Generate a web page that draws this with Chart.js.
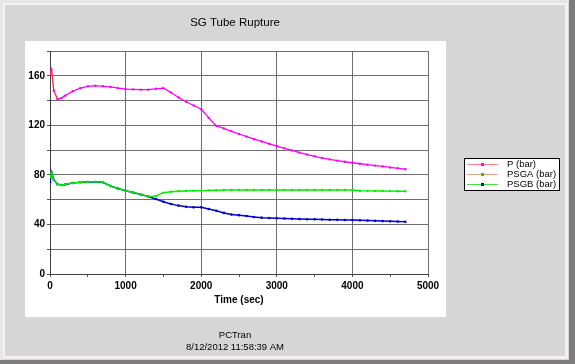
<!DOCTYPE html>
<html>
<head>
<meta charset="utf-8">
<script src="https://cdn.jsdelivr.net/npm/chart.js@4.4.1/dist/chart.umd.min.js"></script>
<style>
html,body{margin:0;padding:0;background:#d6d6d6;}
#wrap{position:relative;width:575px;height:364px;}
</style>
</head>
<body>
<div id="wrap"><canvas id="c" width="575" height="364"></canvas></div>
<script>
const chartTitle = 'SG Tube Rupture';
const xTitle = 'Time (sec)';
const footer1 = 'PCTran';
const footer2 = '8/12/2012 11:58:39 AM';
const seriesNames = ['P (bar)', 'PSGA (bar)', 'PSGB (bar)'];

const timeSec = [0, 20, 50, 100, 150, 200, 300, 400, 500, 600, 700, 800, 900, 1000,
  1100, 1200, 1300, 1400, 1500, 1600, 1700, 1800, 1900, 2000, 2100, 2200, 2300, 2400,
  2500, 2600, 2700, 2800, 2900, 3000, 3100, 3200, 3300, 3400, 3500, 3600, 3700, 3800,
  3900, 4000, 4100, 4200, 4300, 4400, 4500, 4600, 4700];

const pBar = [161, 165, 148, 141, 142, 144, 147.5, 150, 151.5, 152, 151.5, 151, 150, 149.3,
  149, 148.8, 148.8, 149.5, 150, 146.5, 142.5, 139, 136, 133, 126, 119.6, 117.5, 115.2,
  113, 110.8, 108.8, 107, 105.1, 103.3, 101.5, 99.7, 98, 96.4, 95, 93.6, 92.5, 91.5,
  90.6, 89.8, 89, 88.2, 87.5, 86.8, 86, 85.3, 84.6];

const psgaBar = [78, 82, 76, 72.5, 71.8, 72.3, 73.5, 74, 74.3, 74.4, 74.2, 71, 69, 67.2,
  65.8, 64.2, 62.5, 63, 65.7, 66.4, 66.8, 67, 67.2, 67.3, 67.5, 67.6, 67.8, 67.8,
  67.8, 67.8, 67.8, 67.8, 67.8, 67.8, 67.8, 67.8, 67.8, 67.8, 67.8, 67.8, 67.8, 67.8,
  67.8, 67.8, 67.2, 67.1, 67, 67, 66.9, 66.8, 66.8];

const psgbBar = [74, 82, 76, 72.5, 71.8, 72.3, 73.5, 74, 74.2, 74.2, 74, 71, 69, 67.2,
  65.8, 64.2, 62.5, 60.5, 58.3, 56.5, 55.2, 54.3, 53.8, 53.8, 52.5, 51, 49.3, 48,
  47.5, 46.8, 46, 45.5, 45.2, 45, 44.8, 44.5, 44.3, 44.2, 44.1, 44, 43.8, 43.7,
  43.6, 43.5, 43.3, 43.1, 42.9, 42.7, 42.5, 42.3, 42.1];

const yTickValues = [0, 40, 80, 120, 160];
const xTickValues = [0, 1000, 2000, 3000, 4000, 5000];

function pts(vals){ return timeSec.map((t,i)=>({x:t, y:vals[i]})); }

const framePlugin = {
  id:'frame',
  beforeDraw(chart){
    const c = chart.ctx;
    c.save();
    c.fillStyle = '#d6d6d6'; c.fillRect(0,0,575,364);
    c.fillStyle = '#e6e6e6'; c.fillRect(0,0,575,3); c.fillRect(0,0,3,364);
    c.fillStyle = '#f2f2f2'; c.fillRect(3,3,565,2); c.fillRect(3,3,2,356);
    c.fillStyle = '#f4f0f0'; c.fillRect(565,3,3,356); c.fillRect(3,356,565,3);
    c.fillStyle = '#7c7c7c'; c.fillRect(569,0,6,364); c.fillRect(0,360,575,4);
    c.fillStyle = '#ffffff'; c.fillRect(25,41,421,276);
    c.fillStyle = '#000';
    c.textAlign = 'center'; c.textBaseline = 'middle';
    c.font = '11.5px "Liberation Sans", Arial, sans-serif';
    c.fillText(chartTitle, 235, 23);
    c.font = '9.5px "Liberation Sans", Arial, sans-serif';
    c.fillText(footer1, 235, 335);
    c.fillText(footer2, 235, 347);
    c.restore();
  },
  afterDraw(chart){
    const c = chart.ctx;
    const a = chart.chartArea;
    c.save();
    c.fillStyle = '#000';
    c.textAlign = 'center'; c.textBaseline = 'middle';
    c.font = 'bold 10px "Liberation Sans", Arial, sans-serif';
    c.fillText(xTitle, (a.left + a.right)/2, 300);
    // legend
    c.fillStyle = '#fff'; c.fillRect(464,158,96,33);
    c.strokeStyle = '#000'; c.lineWidth = 1; c.strokeRect(464.5,158.5,95,32);
    const lineCols = ['#ff8080', '#d8a888', '#40e040'];
    const dotCols = ['#ff00ff', '#00e000', '#0000c0'];
    const ys = [164.5, 174.5, 184.5];
    c.font = '9.5px "Liberation Sans", Arial, sans-serif';
    c.textAlign = 'left';
    for (let i=0;i<3;i++){
      c.strokeStyle = lineCols[i];
      c.beginPath(); c.moveTo(467, ys[i]); c.lineTo(498, ys[i]); c.stroke();
      c.fillStyle = dotCols[i];
      c.fillRect(481, ys[i]-1.5, 3, 3);
      c.fillStyle = '#000';
      c.fillText(seriesNames[i], 507, ys[i]);
    }
    c.restore();
  }
};

new Chart(document.getElementById('c'), {
  type:'line',
  data:{
    datasets:[
      {label:seriesNames[0], data:pts(pBar), borderColor:'#ff00ff', backgroundColor:'#ff00ff',
       borderWidth:1.3, pointRadius:1.2, pointBorderWidth:0, tension:0,
       segment:{borderColor: ctx => ctx.p0DataIndex < 3 ? '#ff2040' : undefined}},
      {label:seriesNames[1], data:pts(psgaBar), borderColor:'#00ee00', backgroundColor:'#00ee00',
       borderWidth:1.3, pointRadius:1.2, pointBorderWidth:0, tension:0},
      {label:seriesNames[2], data:pts(psgbBar), borderColor:'#0000c8', backgroundColor:'#0000c8',
       borderWidth:1.5, pointRadius:1.3, pointBorderWidth:0, tension:0}
    ]
  },
  options:{
    responsive:false, animation:false, devicePixelRatio:1,
    layout:{padding:{left:0, right:147, top:51, bottom:0}},
    plugins:{legend:{display:false}, title:{display:false}, tooltip:{enabled:false}},
    scales:{
      x:{type:'linear', min:0, max:5000,
        afterFit(s){ s.height = 90; },
        afterBuildTicks(s){ const t=[]; for(let v=0; v<=5000; v+=500) t.push({value:v}); s.ticks=t; },
        ticks:{autoSkip:false, maxRotation:0, padding:3, color:'#000',
          font:{family:'"Liberation Sans", Arial, sans-serif', size:10, weight:'bold'},
          callback:(v)=> xTickValues.includes(v) ? String(v) : ''},
        grid:{color: ctx => (ctx.tick && ctx.tick.value % 1000 !== 0) ? 'rgba(0,0,0,0)' : '#6e6e6e',
          tickColor:'#555', tickLength:3, lineWidth:1},
        border:{color:'#404040', width:1}
      },
      y:{min:0, max:180,
        afterFit(s){ s.width = 50; },
        afterBuildTicks(s){ const t=[]; for(let v=0; v<=180; v+=20) t.push({value:v}); s.ticks=t; },
        ticks:{autoSkip:false, padding:2, color:'#000',
          font:{family:'"Liberation Sans", Arial, sans-serif', size:10, weight:'bold'},
          callback:(v)=> yTickValues.includes(v) ? String(v) : ''},
        grid:{color:'#6e6e6e', tickColor:'#555', tickLength:3, lineWidth:1},
        border:{color:'#404040', width:1}
      }
    }
  },
  plugins:[framePlugin]
});
</script>
</body>
</html>
